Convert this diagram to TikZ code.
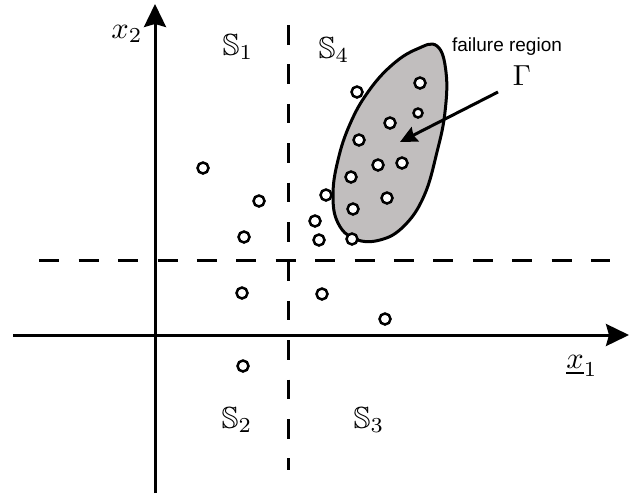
\documentclass[tikz,border=0pt]{standalone}
\usepackage{amssymb}
\usepackage{fontspec}
\newfontfamily\labelsans{Liberation Sans}
\usetikzlibrary{arrows.meta}
\definecolor{blobgray}{RGB}{193,190,190}
\newcommand{\bigmath}[1]{\scalebox{3.05}{$#1$}}
\tikzset{
  axisline/.style={line width=3pt, -{Stealth[length=23pt,width=22pt,inset=3pt]}},
  splitline/.style={line width=3pt, dash pattern=on 20pt off 19.4pt},
  sample/.style={circle, draw, line width=2.5pt, minimum size=11pt, inner sep=0pt, fill=white},
  biglabel/.style={font=\fontsize{10}{12}\selectfont, inner sep=0pt},
}
\begin{document}
\begin{tikzpicture}[x=1pt,y=-1pt]
\useasboundingbox (0,0) rectangle (629,493);
% failure region
\filldraw[fill=blobgray, line width=3pt] plot[smooth cycle, tension=0.7] coordinates {
 (437,46) (446,72) (445,112) (437,152) (424,196) (404,226) (380,240) (355,239) (338,223) (333,195) (338,160) (350,124) (368,92) (392,65) (417,49)};
% dashed split lines
\coordinate (hs) at (39.3,260);
\coordinate (he) at (610,260);
\coordinate (vs) at (288.5,25);
\coordinate (ve) at (288.5,470);
\draw[splitline] (hs) -- (he);
\draw[splitline, dash pattern=on 19.5pt off 19.9pt] (vs) -- (ve);
% axes
\coordinate (xa) at (13,335);
\coordinate (xb) at (629,335);
\coordinate (ya) at (155,493);
\coordinate (yb) at (155,4);
\draw[axisline] (xa) -- (xb);
\draw[axisline] (ya) -- (yb);
% samples
\foreach \p [count=\i] in {(203,168),(259,201),(244,237),(242,293),(243,366),(322,294),(385,319),
  (315,221),(319,240),(326,195),(352,239),(353,209),(351,177),(357,92),(359,140),(390,123),
  (378,165),(402,163),(387,198),(420,83)}
  \node[sample] (s\i) at \p {};
\node[sample, minimum size=9pt] (s21) at (418,113) {};
% labels
\node[biglabel] (lx2) at (127,34) {\bigmath{x_2}};
\node[biglabel] (lx1) at (582,366) {\bigmath{\underline{x}_1}};
\node[biglabel] (lS1) at (238,47) {\bigmath{\mathbb{S}_1}};
\node[biglabel] (lS4) at (334,50) {\bigmath{\mathbb{S}_4}};
\node[biglabel] (lS2) at (237,420) {\bigmath{\mathbb{S}_2}};
\node[biglabel] (lS3) at (369,420) {\bigmath{\mathbb{S}_3}};
\node[inner sep=0pt, font=\labelsans\fontsize{19}{22}\selectfont] (fr) at (507,47) {failure region};
\node[biglabel] (gam) at (522,76) {\scalebox{2.9}{$\Gamma$}};
\coordinate (atail) at (498,92);
\coordinate (ahead) at (400,142);
\draw[line width=3pt, -{Stealth[length=17pt,width=16pt,inset=2pt]}] (atail) -- (ahead);
\end{tikzpicture}
\end{document}
